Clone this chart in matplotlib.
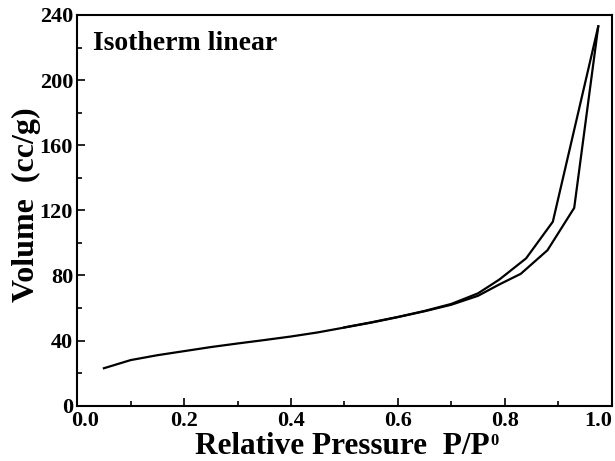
import matplotlib
matplotlib.use("Agg")
import matplotlib.pyplot as plt
import matplotlib.transforms as mtransforms
from matplotlib.ticker import MultipleLocator

# nitrogen isotherm, adsorption and desorption branches
p_ads = [0.05, 0.10, 0.15, 0.20, 0.25, 0.30, 0.35, 0.40, 0.45, 0.50,
         0.55, 0.60, 0.65, 0.70, 0.75, 0.79, 0.83, 0.88, 0.93, 0.975]
v_ads = [23.0, 28.0, 31.0, 33.5, 36.0, 38.2, 40.3, 42.5, 45.0, 48.0,
         51.0, 54.4, 58.0, 62.0, 67.5, 74.5, 81.0, 95.5, 121.5, 233.0]

p_des = [0.975, 0.89, 0.84, 0.79, 0.75, 0.70, 0.65, 0.60, 0.55, 0.50]
v_des = [233.0, 113.0, 90.5, 77.5, 69.0, 62.5, 58.2, 54.5, 51.2, 48.1]

x_ticks = [0.0, 0.2, 0.4, 0.6, 0.8, 1.0]
y_ticks = [0, 40, 80, 120, 160, 200, 240]

plt.rcParams['font.family'] = 'Liberation Serif'
plt.rcParams['font.weight'] = 'bold'

fig = plt.figure(figsize=(6.15, 4.61), dpi=100)
ax = fig.add_axes([0.1255, 0.120, 0.869, 0.8475])

ax.plot(p_ads, v_ads, color='black', lw=1.6)
ax.plot(p_des, v_des, color='black', lw=1.6)

ax.set_xlim(0, 1.0)
ax.set_ylim(0, 240)
ax.set_xticks(x_ticks)
ax.set_yticks(y_ticks)
ax.xaxis.set_minor_locator(MultipleLocator(0.1))
ax.yaxis.set_minor_locator(MultipleLocator(20))
ax.tick_params(which='both', direction='in', top=False, right=False, width=1.2)
ax.tick_params(which='major', length=5.5, labelsize=16, pad=4)
ax.tick_params(axis='y', which='major', pad=3)
ax.tick_params(which='minor', length=3.5)
for s in ax.spines.values():
    s.set_linewidth(1.5)

fig.canvas.draw()
# nudge the end labels so they stay clear of the corner / edge
xl = ax.get_xticklabels()
xl[0].set_transform(xl[0].get_transform() +
                    mtransforms.ScaledTranslation(8 / 100, 0, fig.dpi_scale_trans))
xl[-1].set_transform(xl[-1].get_transform() +
                     mtransforms.ScaledTranslation(-13 / 100, 0, fig.dpi_scale_trans))

ax.set_xlabel('Relative Pressure  P/P', fontsize=22.5, fontweight='bold')
ax.xaxis.label.set_va('baseline')
ax.xaxis.set_label_coords(0.497, -0.1236)
# small superscript zero after P/P
ax.annotate('0', xy=(1, 0), xycoords=ax.xaxis.label, xytext=(0.5, 11.5),
            textcoords='offset points', fontsize=12, fontweight='bold',
            ha='left', va='baseline')

ax.set_ylabel('Volume  (cc/g)', fontsize=23, fontweight='bold')
ax.yaxis.set_label_coords(-0.068, 0.515)

ax.text(0.03, 0.91, 'Isotherm linear', transform=ax.transAxes,
        fontsize=20, fontweight='bold', va='baseline', ha='left')

fig.savefig('out.png', dpi=100)
